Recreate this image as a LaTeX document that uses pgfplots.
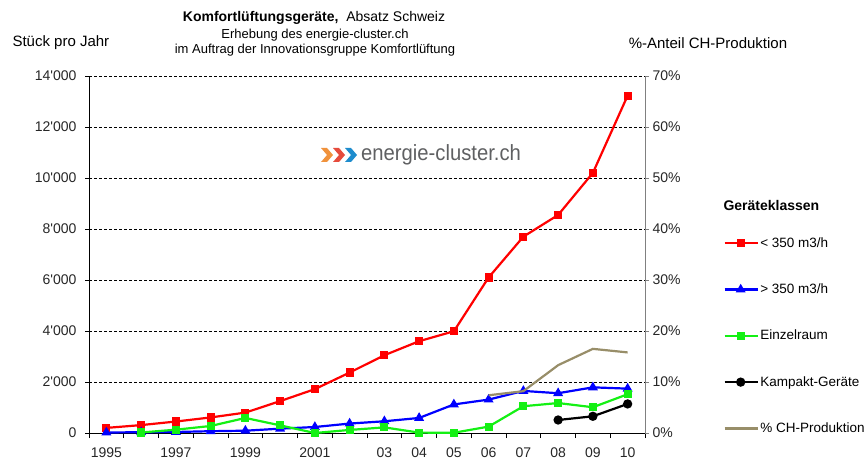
\documentclass[border=0pt]{standalone}
\usepackage{pgfplots}
\pgfplotsset{compat=1.18}
\usepackage{fontspec}
\setmainfont{Liberation Sans}
\definecolor{cred}{RGB}{255,0,0}
\definecolor{cblue}{RGB}{0,0,255}
\definecolor{cgreen}{RGB}{20,240,20}
\definecolor{cbrown}{RGB}{152,142,105}
\definecolor{logogray}{RGB}{95,96,98}
\definecolor{lorange}{RGB}{240,146,60}
\definecolor{lred}{RGB}{230,75,60}
\definecolor{lblue}{RGB}{30,140,205}
\newcommand{\fs}[1]{\fontsize{#1}{#1}\selectfont}
\begin{document}
\begin{tikzpicture}[x=1pt,y=1pt]
\useasboundingbox (0,0) rectangle (868,461);
\begin{axis}[
  at={(89pt,28pt)}, anchor=south west,
  scale only axis, width=556pt, height=357pt,
  xmin=0, xmax=16, ymin=0, ymax=14000,
  scaled y ticks=false,
  axis y line*=left, axis x line*=bottom,
  axis line style={black, line width=1pt},
  ytick={0,2000,4000,6000,8000,10000,12000,14000},
  yticklabels={0,2\textquotesingle000,4\textquotesingle000,6\textquotesingle000,8\textquotesingle000,10\textquotesingle000,12\textquotesingle000,14\textquotesingle000},
  ymajorgrids, grid style={black, line width=0.6pt, dash pattern=on 3pt off 2pt},
  xtick={0.5,2.5,4.5,6.5,8.5,9.5,10.5,11.5,12.5,13.5,14.5,15.5},
  xticklabels={1995,1997,1999,2001,03,04,05,06,07,08,09,10},
  major x tick style={draw=none},
  minor xtick={0,1,...,16},
  minor tick length=5pt,
  major tick length=4pt,
  tick align=outside,
  tick style={black, line width=0.8pt},
  /pgf/number format/assume math mode=true,
  ticklabel style={font=\fs{14}, text=black!85},
  yticklabel style={xshift=-5pt},
  xticklabel style={yshift=-7pt},
  legend cell align=left,
  legend image code/.code={\draw[mark repeat=2,mark phase=2,#1] plot coordinates {(0pt,0pt)(16pt,0pt)(33pt,0pt)};},
  legend style={at={(axis description cs:1.141,0.552)}, anchor=north west, draw=none, fill=none,
    font=\fs{13.5}, row sep=32pt, column sep=0pt, inner sep=0pt,
    nodes={inner sep=1.5pt}},
]
\addplot[cred, line width=2.2pt, mark=square*, mark size=3pt, mark options={solid}] coordinates {
(0.5,200)(1.5,310)(2.5,450)(3.5,610)(4.5,800)(5.5,1250)(6.5,1720)(7.5,2370)
(8.5,3050)(9.5,3600)(10.5,3990)(11.5,6100)(12.5,7700)(13.5,8550)(14.5,10200)(15.5,13230)};
\addlegendentry{< 350 m3/h}
\addplot[cblue, line width=2.2pt, mark=triangle*, mark size=3.6pt] coordinates {
(0.5,20)(1.5,30)(2.5,40)(3.5,70)(4.5,90)(5.5,170)(6.5,235)(7.5,370)
(8.5,460)(9.5,590)(10.5,1120)(11.5,1310)(12.5,1650)(13.5,1560)(14.5,1790)(15.5,1740)};
\addlegendentry{> 350 m3/h}
\addplot[cgreen, line width=2.2pt, mark=square*, mark size=3pt] coordinates {
(1.5,20)(2.5,130)(3.5,275)(4.5,590)(5.5,300)(6.5,0)(7.5,120)
(8.5,220)(9.5,15)(10.5,10)(11.5,250)(12.5,1050)(13.5,1175)(14.5,1010)(15.5,1520)};
\addlegendentry{Einzelraum}
\addplot[black, line width=2.2pt, mark=*, mark size=3.5pt] coordinates {
(13.5,510)(14.5,655)(15.5,1140)};
\addlegendentry{Kampakt-Geräte}
\addlegendimage{cbrown, line width=2.2pt, no markers}
\addlegendentry{\% CH-Produktion}
\end{axis}
\begin{axis}[
  at={(89pt,28pt)}, anchor=south west,
  scale only axis, width=556pt, height=357pt,
  xmin=0, xmax=16, ymin=0, ymax=70,
  axis y line*=right, axis x line=none,
  axis line style={black!50, line width=1pt},
  ytick={0,10,20,30,40,50,60,70},
  yticklabels={0\%,10\%,20\%,30\%,40\%,50\%,60\%,70\%},
  major tick length=4pt,
  tick align=outside,
  tick style={black!50, line width=0.8pt},
  /pgf/number format/assume math mode=true,
  ticklabel style={font=\fs{14}, text=black!85},
]
\addplot[cbrown, line width=2.2pt, no markers] coordinates {
(11.5,7.4)(12.5,8.2)(13.5,13.3)(14.5,16.5)(15.5,15.8)};
\end{axis}
% texts
\node[anchor=west, font=\fs{15}] at (9,418) {Stück pro Jahr};
\node[font=\fs{14}] at (314,443) {\textbf{Komfortlüftungsgeräte,}\ \ Absatz Schweiz};
\node[font=\fs{13}] at (315,426) {Erhebung des energie-cluster.ch};
\node[font=\fs{13}] at (315,411) {im Auftrag der Innovationsgruppe Komfortlüftung};
\node[font=\fs{15}] at (708,418) {\%-Anteil CH-Produktion};
\node[anchor=west, font=\bfseries\fs{14}] at (720,256) {Geräteklassen};
% logo
\fill[lorange] (321,313)--(327,313)--(333,306)--(327,299)--(321,299)--(327,306)--cycle;
\fill[lred] (333,313)--(339,313)--(345,306)--(339,299)--(333,299)--(339,306)--cycle;
\fill[lblue] (345,313)--(351,313)--(357,306)--(351,299)--(345,299)--(351,306)--cycle;
\node[anchor=west, inner sep=0pt, text=logogray, font=\fs{22}] at (361,306) {\scalebox{0.92}[1]{energie-cluster.ch}};
\end{tikzpicture}
\end{document}
